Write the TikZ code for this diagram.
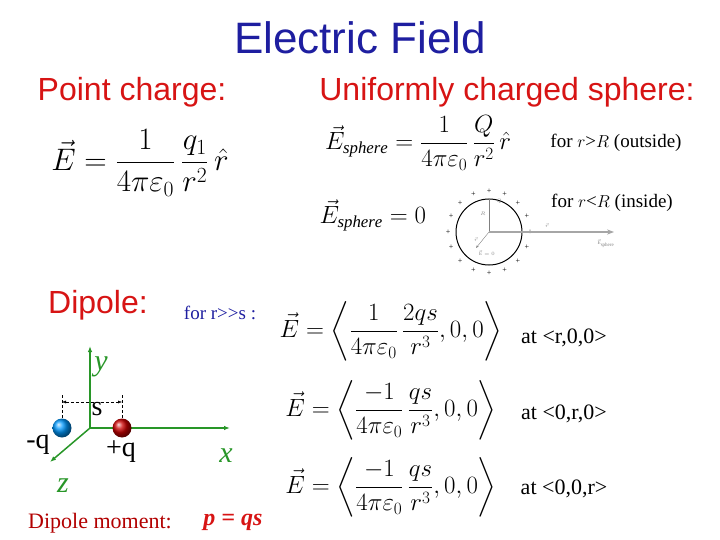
\documentclass[tikz,border=0pt]{standalone}
\usepackage{amsmath}
\usepackage{fontspec}
\setmainfont{Liberation Serif}
\setsansfont{Liberation Sans}
\usetikzlibrary{arrows.meta,positioning,calc}
\definecolor{titleblue}{RGB}{30,30,160}
\definecolor{headred}{RGB}{215,20,20}
\definecolor{axisgreen}{RGB}{40,150,40}
\tikzset{head/.style={font=\sffamily\fontsize{32}{34}\selectfont,text=headred},
         eqn/.style={font=\fontsize{23}{27}\selectfont},
         note/.style={font=\fontsize{19}{21}\selectfont},
         axis/.style={draw=axisgreen,line width=1.5pt,-{Latex[length=6pt]}},
         plus/.style={font=\fontsize{8}{8}\selectfont,inner sep=0pt}}
\begin{document}
\begin{tikzpicture}[x=1pt,y=-1pt]
\useasboundingbox (0,0) rectangle (720,540);
% headings
\node[font=\sffamily\fontsize{44}{46}\selectfont,text=titleblue] (title) at (360,38) {Electric Field};
\node[head] (pc) at (132,92) {Point charge:};
\node[head] (us) at (507,92) {Uniformly charged sphere:};
\node[head] (dp) at (98,305) {Dipole:};
% point charge
\node[eqn,font=\fontsize{24}{28}\selectfont] (epc) at (140,163) {\scalebox{1.25}{$\vec E=\dfrac{1}{4\pi\varepsilon_0}\,\dfrac{q_1}{r^2}\,\hat r$}};
% sphere
\node[eqn,font=\fontsize{24}{28}\selectfont] (es1) at (418,143) {$\vec E_{\mathit{sphere}}=\dfrac{1}{4\pi\varepsilon_0}\,\dfrac{Q}{r^2}\,\hat r$};
\node[note] (out) at (616,143) {for $r$>$R$ (outside)};
\node[eqn,font=\fontsize{24}{28}\selectfont,anchor=west] (es2) at (316,215) {$\vec E_{\mathit{sphere}}=0$};
\node[note] (in) at (612,203) {for $r$<$R$ (inside)};
\coordinate (c) at (489,232);
\draw[line width=1pt] (c) circle (33);
\foreach \a in {0,22.5,...,337.5}
  \node[plus] at ($(c)+(\a:41)$) {+};
\node[font=\tiny,text=gray] (q) at (499,201) {$Q$};
\draw[gray] (c) -- ++(0,-33);
\node[font=\tiny,text=gray] (rl) at (483,214) {$R$};
\coordinate (tip) at (614,232);
\draw[gray!70,line width=1.5pt,-{Stealth[length=7pt]}] (c) -- (tip);
\node[font=\tiny,text=gray] (rv) at (547,226) {$\vec r$};
\node[font=\tiny,text=gray,anchor=north] (esp) at (606,236) {$\vec{\mathrm E}_{\mathrm{sphere}}$};
\coordinate (rs) at (476,248);
\draw[gray,-{Stealth[length=3pt]}] (c) -- (rs);
\node[font=\tiny,text=gray] (e0) at (487,253) {$\vec{\mathrm E}=0$};
\node[font=\tiny,text=gray] (rr) at (476,240) {$\vec r$};
% dipole equations
\node[note,text=titleblue] (far) at (220,313) {for r{>}{>}s :};
\node[eqn] (d1) at (391,331) {$\vec E=\left\langle\dfrac{1}{4\pi\varepsilon_0}\,\dfrac{2qs}{r^3},0,0\right\rangle$};
\node[eqn] (d2) at (391,410) {$\vec E=\left\langle\dfrac{-1}{4\pi\varepsilon_0}\,\dfrac{qs}{r^3},0,0\right\rangle$};
\node[eqn] (d3) at (391,487) {$\vec E=\left\langle\dfrac{-1}{4\pi\varepsilon_0}\,\dfrac{qs}{r^3},0,0\right\rangle$};
\node[note,font=\fontsize{22}{24}\selectfont] (a1) at (564,338) {at <r,0,0>};
\node[note,font=\fontsize{22}{24}\selectfont] (a2) at (564,414) {at <0,r,0>};
\node[note,font=\fontsize{22}{24}\selectfont] (a3) at (564,489) {at <0,0,r>};
% axes
\coordinate (o) at (90,428);
\coordinate (ye) at (90,346);
\coordinate (xe) at (230,428);
\coordinate (ze) at (50,462);
\draw[axis] (o) -- (ye);
\draw[axis] (o) -- (xe);
\draw[axis] (o) -- (ze);
\node[text=axisgreen,font=\itshape\fontsize{30}{32}\selectfont] (yl) at (101,367) {y};
\node[text=axisgreen,font=\itshape\fontsize{30}{32}\selectfont] (xl) at (226,456) {x};
\node[text=axisgreen,font=\itshape\fontsize{30}{32}\selectfont] (zl) at (63,486) {z};
\shade[ball color=cyan!60!blue] (62,428) circle (9.5);
\shade[ball color=red!80!black] (122,428) circle (9.5);
\coordinate (m1) at (62,402);
\coordinate (m2) at (122,402);
\draw[densely dashed] (62,395) -- (62,418) (122,395) -- (122,418);
\draw[densely dashed,{Latex[length=4pt]}-{Latex[length=4pt]}] (m1) -- (m2);
\node[font=\fontsize{28}{30}\selectfont] (s) at (97,409) {s};
\node[font=\fontsize{28}{30}\selectfont] (mq) at (38,445) {-q};
\node[font=\fontsize{28}{30}\selectfont] (pq) at (121,452) {+q};
\node[note,text=red!70!black,font=\fontsize{22}{24}\selectfont] (dm) at (100,523) {Dipole moment:};
\node[text=headred,font=\bfseries\itshape\fontsize{24}{26}\selectfont] (pqs) at (233,522) {p = qs};
\end{tikzpicture}
\end{document}
